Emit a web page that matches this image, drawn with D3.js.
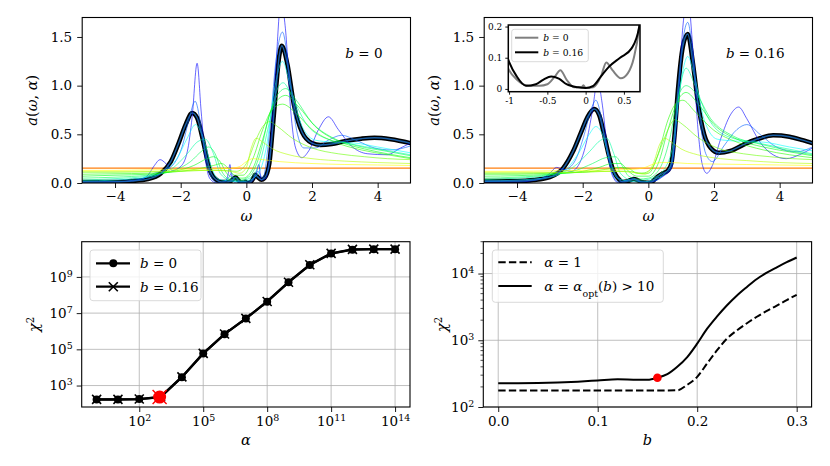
<!DOCTYPE html>
<html>
<head>
<meta charset="utf-8">
<script src="https://cdn.jsdelivr.net/npm/d3@7"></script>
<style>
body { margin: 0; background: #fff; }
</style>
</head>
<body>
<div id="viz"></div>
<script>
// ---------- data ----------
const omegaTicks = [-4, -2, 0, 2, 4];
const aTicks = [0, 0.5, 1.0, 1.5];
const defaultModel = 0.152;
// position of each spectrum on the alpha colour ramp (small alpha = blue)
const alphaRank = [0, 0.12, 0.33, 0.45, 0.55, 0.63, 0.71, 0.8, 0.9, 1];

// optimal spectrum, b = 0
const optB0 = [[-5,0.01],[-4,0.01],[-3.5,0.02],[-3,0.04],[-2.6,0.1],[-2.3,0.22],[-2.05,0.42],[-1.85,0.6],[-1.65,0.72],[-1.5,0.67],[-1.35,0.48],[-1.2,0.25],[-1.1,0.12],[-1,0.06],[-0.9,0.03],[-0.75,0.01],[-0.6,0.01],[-0.5,0.015],[-0.4,0.04],[-0.33,0.06],[-0.25,0.03],[-0.15,0.005],[-0.05,0.005],[-0.03,0.012],[0,0.003],[0.1,0.005],[0.2,0.04],[0.27,0.085],[0.35,0.06],[0.46,0.034],[0.55,0.05],[0.63,0.1],[0.7,0.2],[0.8,0.55],[0.9,0.95],[1.0,1.3],[1.08,1.41],[1.25,1.22],[1.45,0.8],[1.7,0.52],[2.0,0.41],[2.25,0.39],[2.6,0.4],[3.0,0.43],[3.5,0.455],[3.9,0.465],[4.4,0.45],[5,0.41]];
// optimal spectrum, b = 0.16
const optB16 = [[-5,0.02],[-4,0.02],[-3.5,0.03],[-3,0.06],[-2.6,0.15],[-2.3,0.32],[-2.05,0.52],[-1.85,0.68],[-1.65,0.76],[-1.5,0.7],[-1.35,0.5],[-1.2,0.28],[-1.1,0.16],[-1,0.087],[-0.9,0.04],[-0.78,0.01],[-0.65,0.015],[-0.55,0.03],[-0.45,0.04],[-0.35,0.033],[-0.25,0.015],[-0.1,0.005],[0,0.003],[0.1,0.01],[0.2,0.04],[0.3,0.07],[0.45,0.1],[0.6,0.13],[0.7,0.2],[0.8,0.5],[0.9,0.95],[1.05,1.4],[1.2,1.53],[1.35,1.25],[1.5,0.85],[1.7,0.5],[1.9,0.36],[2.15,0.31],[2.5,0.33],[3.0,0.41],[3.4,0.46],[3.8,0.49],[4.3,0.475],[4.7,0.44],[5,0.41]];

// spectra for increasing alpha, b = 0
const b0s1 = [[-5,0.01],[-4,0.01],[-3.3,0.03],[-3,0.08],[-2.8,0.18],[-2.63,0.24],[-2.45,0.2],[-2.25,0.13],[-2.0,0.17],[-1.8,0.32],[-1.65,0.68],[-1.5,1.23],[-1.38,0.75],[-1.25,0.25],[-1.1,0.04],[-0.9,0.0],[-0.65,0.01],[-0.55,0.1],[-0.5,0.19],[-0.44,0.04],[-0.3,0.0],[-0.1,0.01],[0.1,0.0],[0.3,0.1],[0.38,0.19],[0.45,0.03],[0.6,0.05],[0.75,0.45],[0.9,1.2],[1.05,1.85],[1.2,1.55],[1.35,0.75],[1.5,0.36],[1.69,0.26],[1.9,0.33],[2.2,0.55],[2.5,0.68],[2.8,0.55],[3.2,0.38],[3.7,0.3],[4.28,0.29],[4.7,0.36],[5,0.41]];
const b0s2 = [[-5,0.01],[-4,0.015],[-3.2,0.04],[-2.8,0.1],[-2.5,0.13],[-2.2,0.2],[-1.95,0.38],[-1.75,0.65],[-1.56,0.84],[-1.4,0.62],[-1.25,0.28],[-1.05,0.05],[-0.85,0.0],[-0.55,0.05],[-0.45,0.1],[-0.35,0.02],[0,0.01],[0.25,0.06],[0.35,0.12],[0.5,0.05],[0.7,0.5],[0.9,1.25],[1.1,1.55],[1.3,1.15],[1.5,0.6],[1.75,0.36],[2.1,0.36],[2.5,0.44],[2.9,0.49],[3.4,0.43],[3.9,0.36],[4.4,0.34],[5,0.38]];
const b0s3 = [[-5,0.02],[-4,0.03],[-3,0.06],[-2.5,0.12],[-2.1,0.26],[-1.8,0.46],[-1.55,0.6],[-1.3,0.45],[-1.05,0.15],[-0.85,0.04],[-0.5,0.02],[-0.2,0.01],[0.1,0.03],[0.4,0.12],[0.6,0.35],[0.85,0.95],[1.1,1.25],[1.35,0.98],[1.7,0.58],[2.1,0.44],[2.6,0.42],[3.3,0.41],[4,0.37],[5,0.31]];
const b0s4 = [[-5,0.03],[-4,0.045],[-3,0.07],[-2.3,0.14],[-1.8,0.3],[-1.5,0.42],[-1.25,0.45],[-1.0,0.3],[-0.8,0.1],[-0.5,0.03],[-0.2,0.02],[0.1,0.05],[0.4,0.2],[0.7,0.62],[0.95,0.97],[1.12,1.03],[1.4,0.88],[1.8,0.62],[2.4,0.46],[3.2,0.4],[4,0.35],[5,0.29]];
const b0s5 = [[-5,0.05],[-4,0.06],[-3,0.08],[-2.2,0.13],[-1.7,0.22],[-1.35,0.33],[-1.15,0.37],[-0.95,0.3],[-0.75,0.12],[-0.5,0.04],[-0.2,0.03],[0.1,0.07],[0.4,0.28],[0.7,0.7],[1.0,0.93],[1.2,0.97],[1.5,0.86],[2.0,0.62],[2.6,0.47],[3.4,0.38],[4.2,0.33],[5,0.28]];
const b0s6 = [[-5,0.07],[-4,0.08],[-3,0.09],[-2.2,0.12],[-1.6,0.18],[-1.2,0.25],[-1.0,0.27],[-0.8,0.22],[-0.6,0.1],[-0.35,0.05],[-0.1,0.05],[0.2,0.15],[0.5,0.45],[0.8,0.78],[1.2,0.9],[1.6,0.78],[2.1,0.58],[2.8,0.43],[3.6,0.35],[4.3,0.3],[5,0.26]];
const b0s7 = [[-5,0.09],[-4,0.095],[-3,0.1],[-2,0.12],[-1.4,0.15],[-1.0,0.18],[-0.75,0.2],[-0.55,0.15],[-0.35,0.08],[-0.1,0.08],[0.2,0.25],[0.5,0.55],[0.8,0.76],[1.1,0.81],[1.5,0.72],[2,0.55],[2.7,0.42],[3.5,0.34],[4.3,0.29],[5,0.25]];
const b0s8 = [[-5,0.11],[-4,0.11],[-3,0.115],[-2,0.12],[-1.2,0.13],[-0.7,0.13],[-0.3,0.12],[0,0.2],[0.3,0.45],[0.5,0.58],[0.7,0.63],[0.95,0.58],[1.4,0.46],[2,0.36],[2.8,0.3],[3.6,0.27],[4.3,0.25],[5,0.24]];
const b0s9 = [[-5,0.12],[-4,0.12],[-3,0.12],[-2,0.125],[-1,0.13],[-0.5,0.12],[-0.2,0.1],[0,0.16],[0.15,0.36],[0.3,0.46],[0.5,0.42],[0.8,0.35],[1.3,0.29],[2,0.25],[3,0.225],[4,0.21],[5,0.2]];
const b0s10 = [[-5,0.13],[-4,0.13],[-3,0.135],[-2,0.14],[-1,0.145],[-0.5,0.15],[-0.2,0.17],[0,0.22],[0.2,0.25],[0.5,0.24],[1,0.22],[2,0.2],[3,0.19],[4,0.185],[5,0.18]];

// spectra for increasing alpha, b = 0.16
const b16s1 = [[-5,0.01],[-4,0.01],[-3.3,0.04],[-3,0.1],[-2.8,0.16],[-2.6,0.14],[-2.35,0.12],[-2.1,0.2],[-1.9,0.4],[-1.7,0.75],[-1.55,1.05],[-1.4,0.8],[-1.25,0.35],[-1.1,0.08],[-0.9,0.0],[-0.6,0.03],[-0.45,0.05],[-0.3,0.02],[0,0.0],[0.3,0.04],[0.5,0.08],[0.7,0.15],[0.9,0.8],[1.05,1.6],[1.2,1.9],[1.35,1.4],[1.5,0.6],[1.65,0.18],[1.78,0.1],[1.95,0.18],[2.2,0.45],[2.5,0.7],[2.75,0.78],[3.0,0.66],[3.4,0.42],[3.8,0.29],[4.2,0.25],[4.6,0.29],[5,0.36]];
const b16s2 = [[-5,0.015],[-4,0.02],[-3.2,0.05],[-2.8,0.12],[-2.5,0.14],[-2.2,0.25],[-1.95,0.5],[-1.75,0.75],[-1.6,0.85],[-1.45,0.7],[-1.3,0.4],[-1.1,0.1],[-0.9,0.01],[-0.5,0.04],[-0.2,0.01],[0.2,0.02],[0.5,0.09],[0.7,0.16],[0.9,0.85],[1.05,1.45],[1.2,1.65],[1.35,1.35],[1.55,0.7],[1.75,0.3],[1.95,0.22],[2.3,0.38],[2.7,0.55],[3.0,0.6],[3.4,0.5],[3.9,0.37],[4.5,0.32],[5,0.37]];
const b16s3 = [[-5,0.02],[-4,0.03],[-3,0.06],[-2.5,0.14],[-2.1,0.32],[-1.8,0.5],[-1.6,0.58],[-1.4,0.5],[-1.15,0.2],[-0.95,0.05],[-0.6,0.02],[-0.2,0.01],[0.2,0.04],[0.5,0.1],[0.7,0.2],[0.9,0.8],[1.05,1.15],[1.2,1.3],[1.4,1.1],[1.7,0.65],[2.1,0.45],[2.7,0.43],[3.5,0.42],[4.3,0.37],[5,0.33]];
const b16s4 = [[-5,0.035],[-4,0.05],[-3,0.08],[-2.3,0.16],[-1.8,0.32],[-1.45,0.44],[-1.27,0.46],[-1.05,0.3],[-0.85,0.1],[-0.5,0.03],[-0.2,0.03],[0.2,0.06],[0.5,0.15],[0.75,0.4],[0.95,0.95],[1.15,1.18],[1.4,1.02],[1.8,0.68],[2.4,0.48],[3.2,0.42],[4.1,0.36],[5,0.3]];
const b16s5 = [[-5,0.05],[-4,0.06],[-3,0.085],[-2.2,0.13],[-1.7,0.2],[-1.3,0.26],[-1.0,0.27],[-0.8,0.18],[-0.6,0.07],[-0.3,0.04],[0,0.05],[0.35,0.15],[0.65,0.45],[0.9,0.88],[1.15,1.0],[1.45,0.92],[1.9,0.66],[2.6,0.48],[3.4,0.4],[4.2,0.34],[5,0.29]];
const b16s6 = [[-5,0.07],[-4,0.075],[-3,0.09],[-2,0.12],[-1.5,0.16],[-1.1,0.2],[-0.85,0.2],[-0.6,0.12],[-0.35,0.07],[0,0.07],[0.3,0.2],[0.6,0.55],[0.9,0.85],[1.15,0.93],[1.5,0.82],[2,0.6],[2.7,0.45],[3.5,0.37],[4.3,0.32],[5,0.28]];
const b16s7 = [[-5,0.09],[-4,0.09],[-3,0.1],[-2,0.11],[-1.3,0.14],[-0.9,0.16],[-0.6,0.15],[-0.35,0.1],[0,0.1],[0.3,0.3],[0.6,0.65],[0.85,0.82],[1.05,0.85],[1.4,0.74],[2,0.54],[2.7,0.42],[3.5,0.34],[4.3,0.29],[5,0.26]];
const b16s8 = [[-5,0.1],[-4,0.1],[-3,0.105],[-2,0.11],[-1.2,0.12],[-0.6,0.12],[-0.2,0.1],[0.1,0.15],[0.4,0.38],[0.6,0.55],[0.8,0.65],[1.05,0.6],[1.5,0.47],[2.1,0.36],[2.9,0.3],[3.7,0.27],[4.4,0.25],[5,0.24]];
const b16s9 = [[-5,0.11],[-4,0.11],[-3,0.11],[-2,0.115],[-1,0.12],[-0.5,0.11],[-0.1,0.09],[0.15,0.2],[0.35,0.4],[0.5,0.46],[0.7,0.42],[1.0,0.35],[1.5,0.29],[2.2,0.25],[3,0.23],[4,0.21],[5,0.2]];
const b16s10 = [[-5,0.12],[-4,0.12],[-3,0.125],[-2,0.13],[-1,0.135],[-0.5,0.14],[-0.1,0.16],[0.2,0.2],[0.4,0.21],[0.7,0.21],[1.2,0.2],[2,0.195],[3,0.19],[4,0.185],[5,0.18]];

const spectraB0 = [b0s1, b0s2, b0s3, b0s4, b0s5, b0s6, b0s7, b0s8, b0s9, b0s10];
const spectraB16 = [b16s1, b16s2, b16s3, b16s4, b16s5, b16s6, b16s7, b16s8, b16s9, b16s10];

// inset
const insetXTicks = [-1, -0.5, 0, 0.5];
const insetYTicks = [0, 0.1, 0.2];

// chi^2 versus alpha
const alphaValues = [1e0,1e1,1e2,1e3,1e4,1e5,1e6,1e7,1e8,1e9,1e10,1e11,1e12,1e13,1e14];
const chi2AlphaB0 = [170,170,178,230,2900,5.8e4,6.9e5,5.0e6,4.3e7,5.0e8,4.6e9,1.95e10,3.2e10,3.4e10,3.4e10];
const chi2AlphaB16 = [172,172,180,235,3000,6.0e4,7.0e5,5.1e6,4.4e7,5.1e8,4.7e9,2.0e10,3.3e10,3.4e10,3.4e10];
const alphaOpt = 900;
const chi2Opt = 232;
const alphaTicks = [1e2, 1e5, 1e8, 1e11, 1e14];
const chi2Ticks = [1e3, 1e5, 1e7, 1e9];

// chi^2 versus b
const bValues = [0,0.02,0.04,0.06,0.08,0.1,0.12,0.14,0.15,0.16,0.17,0.18,0.19,0.2,0.21,0.22,0.23,0.24,0.25,0.26,0.27,0.28,0.29,0.3];
const chi2BOpt = [226,227,229,233,240,250,260,255,256,274,310,400,560,890,1490,2280,3350,4700,6300,8300,10300,12400,14800,17400];
const chi2BAlpha1 = [177,177,177,177,177,177,177,177,177,177,177,178,215,283,449,710,1060,1410,1800,2250,2750,3300,4000,4800];
const bMark = 0.16;
const chi2BMark = 274;
const bTicks = [0, 0.1, 0.2, 0.3];
const chi2BTicks = [1e2, 1e3, 1e4];

// ---------- layout ----------
const W = 830, H = 466;
const panW = 328.3;
const topY = 17.5, topH = 165.5;
const botY = 241.7, botH = 165.3;
const col1 = 82.2, col2 = 484.2;
const serif = "'DejaVu Serif', serif";
const tickSize = 13.5, labelSize = 14.5, legendSize = 13.5;

const svg = d3.select("#viz").append("svg")
  .attr("width", W)
  .attr("height", H)
  .style("font-family", serif);

const spectrumColor = d3.scaleLinear()
  .domain([0, 0.33, 0.66, 1])
  .range(["#0000ff", "#00ffff", "#00ff00", "#ffff00"]);

function addParts(t, parts) {
  parts.forEach(p => {
    const s = t.append("tspan").text(p.t);
    if (p.i) s.attr("font-style", "italic");
    if (p.sup) s.attr("baseline-shift", "super").attr("font-size", "70%");
    if (p.sub) s.attr("baseline-shift", "sub").attr("font-size", "70%");
  });
}

function styleAxis(sel, size) {
  sel.attr("font-family", null).attr("font-size", size);
  sel.select(".domain").remove();
  sel.selectAll(".tick line").attr("stroke", "black").attr("stroke-width", 0.9);
  sel.selectAll(".tick text").attr("fill", "black").style("font-family", serif);
}

function powerLabels(sel) {
  sel.selectAll(".tick text").each(function (d) {
    const t = d3.select(this);
    t.text(null);
    addParts(t, [{ t: "10" }, { t: String(Math.round(Math.log10(d))), sup: true }]);
  });
}

function frame(g, w, h, sw) {
  g.append("rect")
    .attr("width", w)
    .attr("height", h)
    .attr("fill", "none")
    .attr("stroke", "black")
    .attr("stroke-width", sw);
}

// ---------- spectrum panels ----------
function spectrumPanel(px, spectra, opt, label, id) {
  const g = svg.append("g").attr("transform", `translate(${px},${topY})`);
  const x = d3.scaleLinear().domain([-5, 5]).range([0, panW]);
  const y = d3.scaleLinear().domain([0, 1.7]).range([topH, 0]);

  g.append("clipPath").attr("id", id)
    .append("rect").attr("width", panW).attr("height", topH);

  const line = d3.line()
    .x(d => x(d[0]))
    .y(d => y(d[1]))
    .curve(d3.curveMonotoneX);

  const plot = g.append("g").attr("clip-path", `url(#${id})`);

  plot.append("line")
    .attr("x1", x(-5))
    .attr("x2", x(5))
    .attr("y1", y(defaultModel))
    .attr("y2", y(defaultModel))
    .attr("stroke", "#ff7f0e")
    .attr("stroke-width", 1.3);

  plot.append("path")
    .datum(opt)
    .attr("d", line)
    .attr("fill", "none")
    .attr("stroke", "black")
    .attr("stroke-width", 4.5);

  plot.selectAll(".spec")
    .data(spectra)
    .enter()
    .append("path")
    .attr("class", "spec")
    .attr("d", line)
    .attr("fill", "none")
    .attr("stroke", (d, i) => spectrumColor(alphaRank[i]))
    .attr("stroke-width", 1)
    .attr("opacity", 0.6);

  plot.append("path")
    .datum(opt)
    .attr("d", line)
    .attr("fill", "none")
    .attr("stroke", "#1f6fc0")
    .attr("stroke-width", 1.4)
    .attr("opacity", 0.85);

  g.append("g")
    .attr("transform", `translate(0,${topH})`)
    .call(d3.axisBottom(x).tickValues(omegaTicks).tickSize(5).tickPadding(3))
    .call(styleAxis, tickSize);

  g.append("g")
    .call(d3.axisLeft(y).tickValues(aTicks).tickSize(5).tickPadding(5).tickFormat(d3.format(".1f")))
    .call(styleAxis, tickSize);

  frame(g, panW, topH, 1.1);

  const lab = g.append("text")
    .attr("x", panW - 28)
    .attr("y", 40)
    .attr("text-anchor", "end")
    .attr("font-size", legendSize);
  addParts(lab, [{ t: "b", i: true }, { t: " = " + label }]);

  const xl = g.append("text")
    .attr("x", panW / 2)
    .attr("y", 221 - topY)
    .attr("text-anchor", "middle")
    .attr("font-size", labelSize);
  addParts(xl, [{ t: "ω", i: true }]);

  const yl = g.append("text")
    .attr("transform", `translate(${-45},${topH / 2}) rotate(-90)`)
    .attr("text-anchor", "middle")
    .attr("font-size", labelSize);
  addParts(yl, [{ t: "a", i: true }, { t: "(" }, { t: "ω", i: true }, { t: ", " }, { t: "α", i: true }, { t: ")" }]);

  return g;
}

spectrumPanel(col1, spectraB0, optB0, "0", "clipTL");
spectrumPanel(col2, spectraB16, optB16, "0.16", "clipTR");

// inset in the b = 0.16 panel
const inW = 131.7, inH = 66.7;
const inset = svg.append("g").attr("transform", "translate(508.3,25)");
const ix = d3.scaleLinear().domain([-1.01, 0.71]).range([0, inW]);
const iy = d3.scaleLinear().domain([-0.009, 0.205]).range([inH, 0]);

inset.append("rect").attr("width", inW).attr("height", inH).attr("fill", "white");
inset.append("clipPath").attr("id", "clipIn")
  .append("rect").attr("width", inW).attr("height", inH);

const iline = d3.line()
  .x(d => ix(d[0]))
  .y(d => iy(d[1]))
  .curve(d3.curveMonotoneX);

const inPlot = inset.append("g").attr("clip-path", "url(#clipIn)");
inPlot.append("path").datum(optB0)
  .attr("d", iline).attr("fill", "none")
  .attr("stroke", "#7f7f7f").attr("stroke-width", 2);
inPlot.append("path").datum(optB16)
  .attr("d", iline).attr("fill", "none")
  .attr("stroke", "black").attr("stroke-width", 2);

inset.append("g")
  .attr("transform", `translate(0,${inH})`)
  .call(d3.axisBottom(ix).tickValues(insetXTicks).tickSize(3).tickPadding(3).tickFormat(d => String(d)))
  .call(styleAxis, 9);
inset.append("g")
  .call(d3.axisLeft(iy).tickValues(insetYTicks).tickSize(3).tickPadding(3).tickFormat(d => String(d)))
  .call(styleAxis, 9);
frame(inset, inW, inH, 1.5);

const inLeg = inset.append("g").attr("transform", "translate(3.4,4.3)");
inLeg.append("rect")
  .attr("width", 76.6).attr("height", 32.4).attr("rx", 2.5)
  .attr("fill", "white").attr("fill-opacity", 0.8)
  .attr("stroke", "#d0d0d0").attr("stroke-width", 0.8);
[["0", "#7f7f7f"], ["0.16", "black"]].forEach((e, i) => {
  const yy = 8.4 + i * 14.6;
  inLeg.append("line")
    .attr("x1", 3.3).attr("x2", 26.6).attr("y1", yy).attr("y2", yy)
    .attr("stroke", e[1]).attr("stroke-width", 2);
  const t = inLeg.append("text").attr("x", 31.6).attr("y", yy + 3.3).attr("font-size", 9.2);
  addParts(t, [{ t: "b", i: true }, { t: " = " + e[0] }]);
});

// ---------- chi^2 versus alpha ----------
const bl = svg.append("g").attr("transform", `translate(81.7,${botY})`);
const ax = d3.scaleLog().domain([Math.pow(10, -0.7), Math.pow(10, 14.7)]).range([0, panW]);
const ay = d3.scaleLog().domain([Math.pow(10, 1.815), Math.pow(10, 10.945)]).range([botH, 0]);

bl.selectAll(".gx").data(alphaTicks).enter().append("line")
  .attr("x1", d => ax(d)).attr("x2", d => ax(d))
  .attr("y1", 0).attr("y2", botH)
  .attr("stroke", "#b0b0b0").attr("stroke-width", 0.8);
bl.selectAll(".gy").data(chi2Ticks).enter().append("line")
  .attr("x1", 0).attr("x2", panW)
  .attr("y1", d => ay(d)).attr("y2", d => ay(d))
  .attr("stroke", "#b0b0b0").attr("stroke-width", 0.8);

const chiLine = d3.line()
  .x(d => ax(d[0]))
  .y(d => ay(d[1]));

const ptsB0 = alphaValues.map((a, i) => [a, chi2AlphaB0[i]]);
const ptsB16 = alphaValues.map((a, i) => [a, chi2AlphaB16[i]]);

bl.append("path").datum(ptsB0)
  .attr("d", chiLine).attr("fill", "none")
  .attr("stroke", "black").attr("stroke-width", 2.3);
bl.append("path").datum(ptsB16)
  .attr("d", chiLine).attr("fill", "none")
  .attr("stroke", "black").attr("stroke-width", 2.3);

bl.selectAll(".dot").data(ptsB0).enter().append("circle")
  .attr("cx", d => ax(d[0])).attr("cy", d => ay(d[1]))
  .attr("r", 4).attr("fill", "black");
bl.selectAll(".cross").data(ptsB16).enter().append("path")
  .attr("transform", d => `translate(${ax(d[0])},${ay(d[1])})`)
  .attr("d", "M-4.5,-4.5L4.5,4.5M-4.5,4.5L4.5,-4.5")
  .attr("stroke", "black").attr("stroke-width", 1.6);

bl.append("circle")
  .attr("cx", ax(alphaOpt)).attr("cy", ay(chi2Opt))
  .attr("r", 6.5).attr("fill", "red");
bl.append("path")
  .attr("transform", `translate(${ax(alphaOpt)},${ay(chi2Opt)})`)
  .attr("d", "M-7,-7L7,7M-7,7L7,-7")
  .attr("stroke", "red").attr("stroke-width", 1.4);

bl.append("g")
  .attr("transform", `translate(0,${botH})`)
  .call(d3.axisBottom(ax).tickValues(alphaTicks).tickSize(5).tickPadding(4))
  .call(styleAxis, tickSize)
  .call(powerLabels);
bl.append("g")
  .call(d3.axisLeft(ay).tickValues(chi2Ticks).tickSize(5).tickPadding(4))
  .call(styleAxis, tickSize)
  .call(powerLabels);
frame(bl, panW, botH, 1.1);

const blLeg = bl.append("g").attr("transform", "translate(8.3,8.3)");
blLeg.append("rect")
  .attr("width", 111).attr("height", 50.7).attr("rx", 3)
  .attr("fill", "white").attr("fill-opacity", 0.8)
  .attr("stroke", "#d0d0d0").attr("stroke-width", 0.8);
["0", "0.16"].forEach((lab, i) => {
  const yy = 13.3 + i * 23.4;
  blLeg.append("line")
    .attr("x1", 6).attr("x2", 40).attr("y1", yy).attr("y2", yy)
    .attr("stroke", "black").attr("stroke-width", 2.3);
  if (i === 0) {
    blLeg.append("circle").attr("cx", 23.3).attr("cy", yy).attr("r", 4).attr("fill", "black");
  } else {
    blLeg.append("path")
      .attr("transform", `translate(23.3,${yy})`)
      .attr("d", "M-4.5,-4.5L4.5,4.5M-4.5,4.5L4.5,-4.5")
      .attr("stroke", "black").attr("stroke-width", 1.6);
  }
  const t = blLeg.append("text").attr("x", 50).attr("y", yy + 5).attr("font-size", legendSize);
  addParts(t, [{ t: "b", i: true }, { t: " = " + lab }]);
});

const blx = bl.append("text")
  .attr("x", panW / 2).attr("y", 445 - botY)
  .attr("text-anchor", "middle").attr("font-size", labelSize);
addParts(blx, [{ t: "α", i: true }]);
const bly = bl.append("text")
  .attr("transform", `translate(${-43},${botH / 2}) rotate(-90)`)
  .attr("text-anchor", "middle").attr("font-size", labelSize);
addParts(bly, [{ t: "χ", i: true }, { t: "2", sup: true }]);

// ---------- chi^2 versus b ----------
const br = svg.append("g").attr("transform", `translate(483.3,${botY})`);
const bx = d3.scaleLinear().domain([-0.015, 0.315]).range([0, panW]);
const by = d3.scaleLog().domain([1e2, 3e4]).range([botH, 0]);

br.selectAll(".gx").data(bTicks).enter().append("line")
  .attr("x1", d => bx(d)).attr("x2", d => bx(d))
  .attr("y1", 0).attr("y2", botH)
  .attr("stroke", "#b0b0b0").attr("stroke-width", 0.8);
br.selectAll(".gy").data(chi2BTicks).enter().append("line")
  .attr("x1", 0).attr("x2", panW)
  .attr("y1", d => by(d)).attr("y2", d => by(d))
  .attr("stroke", "#b0b0b0").attr("stroke-width", 0.8);

const bLine = d3.line()
  .x(d => bx(d[0]))
  .y(d => by(d[1]))
  .curve(d3.curveMonotoneX);

br.append("path").datum(bValues.map((b, i) => [b, chi2BAlpha1[i]]))
  .attr("d", bLine).attr("fill", "none")
  .attr("stroke", "black").attr("stroke-width", 2)
  .attr("stroke-dasharray", "7.4,3.2");
br.append("path").datum(bValues.map((b, i) => [b, chi2BOpt[i]]))
  .attr("d", bLine).attr("fill", "none")
  .attr("stroke", "black").attr("stroke-width", 2);
br.append("circle")
  .attr("cx", bx(bMark)).attr("cy", by(chi2BMark))
  .attr("r", 4.3).attr("fill", "red");

br.append("g")
  .attr("transform", `translate(0,${botH})`)
  .call(d3.axisBottom(bx).tickValues(bTicks).tickSize(5).tickPadding(4).tickFormat(d3.format(".1f")))
  .call(styleAxis, tickSize);
br.append("g")
  .call(d3.axisLeft(by).tickValues(chi2BTicks).tickSize(5).tickPadding(4))
  .call(styleAxis, tickSize)
  .call(powerLabels);

// minor ticks on the log axis
const minor = by.ticks().filter(d => chi2BTicks.indexOf(d) < 0);
br.selectAll(".minor").data(minor).enter().append("line")
  .attr("x1", -2.8).attr("x2", 0)
  .attr("y1", d => by(d)).attr("y2", d => by(d))
  .attr("stroke", "black").attr("stroke-width", 0.7);
frame(br, panW, botH, 1.1);

const brLeg = br.append("g").attr("transform", "translate(9,8.3)");
brLeg.append("rect")
  .attr("width", 171).attr("height", 52.3).attr("rx", 3)
  .attr("fill", "white").attr("fill-opacity", 0.8)
  .attr("stroke", "#d0d0d0").attr("stroke-width", 0.8);
brLeg.append("line")
  .attr("x1", 6).attr("x2", 39.4).attr("y1", 12.3).attr("y2", 12.3)
  .attr("stroke", "black").attr("stroke-width", 2)
  .attr("stroke-dasharray", "7.4,3.2");
brLeg.append("line")
  .attr("x1", 6).attr("x2", 39.4).attr("y1", 36).attr("y2", 36)
  .attr("stroke", "black").attr("stroke-width", 2);
const l1 = brLeg.append("text").attr("x", 52).attr("y", 17).attr("font-size", legendSize);
addParts(l1, [{ t: "α", i: true }, { t: " = 1" }]);
const l2 = brLeg.append("text").attr("x", 52).attr("y", 40.7).attr("font-size", legendSize);
addParts(l2, [{ t: "α", i: true }, { t: " = " }, { t: "α", i: true }, { t: "opt", sub: true }, { t: "(" }, { t: "b", i: true }, { t: ") > 10" }]);

const brx = br.append("text")
  .attr("x", bx(0.15)).attr("y", 445 - botY)
  .attr("text-anchor", "middle").attr("font-size", labelSize);
addParts(brx, [{ t: "b", i: true }]);
const bry = br.append("text")
  .attr("transform", `translate(${-36},${botH / 2}) rotate(-90)`)
  .attr("text-anchor", "middle").attr("font-size", labelSize);
addParts(bry, [{ t: "χ", i: true }, { t: "2", sup: true }]);
</script>
</body>
</html>
